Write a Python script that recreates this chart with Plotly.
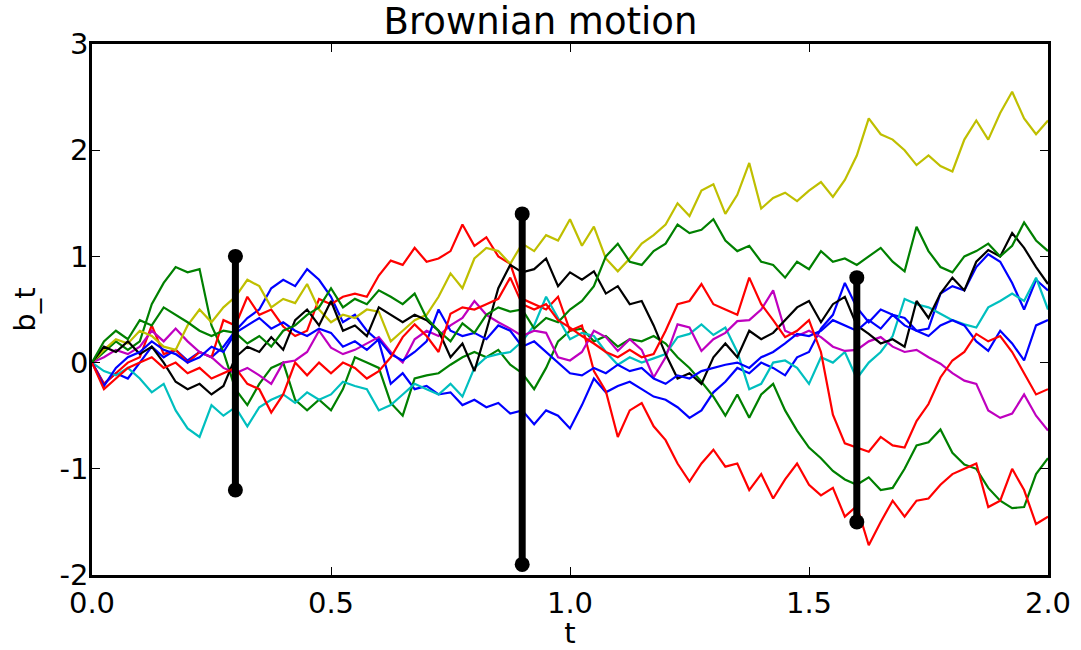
import plotly.graph_objects as go

t = [i * 0.025 for i in range(81)]

blue_a = [0, -0.2, -0.1, -0.15, 0.0, 0.15, 0.05, 0.12, 0.02, 0.1, 0.05, 0.15, 0.3, 0.42, 0.5, 0.7, 0.78, 0.72, 0.88, 0.78,
          0.62, 0.38, 0.45, 0.3, 0.2, -0.2, -0.1, -0.25, -0.22, -0.3, -0.28, -0.4, -0.35, -0.42, -0.38, -0.48, -0.45, -0.58, -0.45, -0.5,
          -0.62, -0.4, -0.15, -0.28, -0.22, -0.18, -0.25, -0.32, -0.35, -0.42, -0.52, -0.45, -0.28, -0.18, -0.05, -0.1, 0.0, -0.05, -0.12, 0.05,
          0.1, 0.32, 0.45, 0.75, 0.52, 0.38, 0.5, 0.45, 0.42, 0.3, 0.32, 0.65, 0.72, 0.68, 0.9, 1.02, 0.95, 0.75, 0.5, 0.78, 0.68]
green_a = [0, 0.1, 0.2, 0.12, 0.2, 0.55, 0.75, 0.9, 0.85, 0.88, 0.35, 0.1, -0.25, -0.4, -0.2, -0.05, 0.0, -0.35, -0.45, -0.35,
           -0.45, -0.25, 0.05, 0.0, -0.05, -0.38, -0.5, -0.15, -0.12, -0.1, -0.02, 0.05, 0.1, 0.05, 0.12, -0.02, -0.1, -0.25, -0.05, 0.2,
           0.3, 0.32, 0.2, 0.25, 0.15, 0.22, 0.2, 0.25, 0.18, 0.05, -0.05, -0.18, -0.32, -0.5, -0.3, -0.52, -0.3, -0.2, -0.45, -0.64,
           -0.8, -0.9, -1.02, -1.1, -1.15, -1.08, -1.2, -1.18, -1.0, -0.78, -0.75, -0.63, -0.85, -0.96, -1.0, -1.18, -1.3, -1.37, -1.36, -1.05, -0.9]
red_a = [0, -0.2, -0.1, 0.0, 0.05, 0.35, 0.08, 0.12, 0.0, 0.1, 0.05, 0.4, 0.35, 0.62, 0.45, 0.5, 0.34, 0.25, 0.3, 0.6,
         0.55, 0.62, 0.65, 0.62, 0.82, 0.96, 0.92, 1.08, 0.95, 0.98, 1.05, 1.3, 1.1, 1.18, 1.0, 0.93, 0.6, 0.55, 0.5, 0.62,
         0.3, 0.35, -0.08, -0.27, -0.7, -0.45, -0.38, -0.6, -0.73, -0.95, -1.12, -0.95, -0.82, -0.98, -0.95, -1.2, -1.05, -1.28, -1.1, -0.95,
         -1.15, -1.25, -1.18, -1.45, -1.35, -1.72, -1.5, -1.3, -1.45, -1.3, -1.28, -1.15, -1.05, -1.0, -0.95, -1.36, -1.3, -1.0, -1.2, -1.52, -1.45]
cyan = [0, -0.08, -0.12, -0.05, -0.15, -0.28, -0.2, -0.45, -0.62, -0.7, -0.4, -0.5, -0.42, -0.6, -0.42, -0.35, -0.3, -0.38, -0.28, -0.35,
        -0.3, -0.18, -0.22, -0.25, -0.45, -0.4, -0.3, -0.2, -0.25, -0.3, -0.2, -0.32, -0.05, 0.05, 0.08, 0.1, 0.2, 0.35, 0.62, 0.42,
        0.22, 0.28, 0.25, 0.1, -0.02, 0.05, 0.0, 0.04, 0.08, 0.24, 0.27, 0.36, 0.26, 0.33, 0.1, -0.25, -0.2, 0.0, 0.02, -0.05,
        -0.2, 0.05, 0.0, 0.1, -0.15, 0.0, 0.1, 0.25, 0.6, 0.55, 0.52, 0.46, 0.4, 0.36, 0.33, 0.52, 0.58, 0.65, 0.58, 0.8, 0.5]
magenta = [0, 0.05, 0.12, 0.08, 0.15, 0.3, 0.2, 0.32, 0.2, 0.1, 0.05, -0.05, -0.1, -0.05, -0.12, -0.2, 0.0, 0.02, 0.1, 0.3,
           0.14, 0.08, 0.12, 0.18, 0.24, 0.1, 0.0, 0.22, 0.3, 0.25, 0.35, 0.42, 0.58, 0.45, 0.38, 0.32, 0.25, 0.3, 0.28, 0.05,
           0.02, 0.1, 0.3, 0.24, 0.11, 0.22, 0.12, -0.14, 0.05, 0.36, 0.33, 0.11, 0.22, 0.28, 0.39, 0.4, 0.5, 0.68, 0.3, 0.25,
           0.3, 0.24, 0.15, 0.11, 0.12, 0.2, 0.24, 0.15, 0.1, 0.12, 0.05, -0.01, -0.1, -0.17, -0.2, -0.45, -0.52, -0.48, -0.3, -0.5, -0.64]
yellow = [0, 0.12, 0.22, 0.18, 0.3, 0.25, 0.15, 0.12, 0.35, 0.5, 0.38, 0.52, 0.62, 0.78, 0.72, 0.52, 0.6, 0.56, 0.74, 0.5,
          0.38, 0.45, 0.42, 0.5, 0.48, 0.2, 0.3, 0.4, 0.45, 0.62, 0.84, 0.7, 0.98, 1.08, 1.05, 0.93, 1.12, 1.05, 1.2, 1.15,
          1.35, 1.1, 1.28, 0.98, 0.86, 0.98, 1.12, 1.2, 1.3, 1.5, 1.38, 1.62, 1.68, 1.4, 1.58, 1.88, 1.45, 1.55, 1.6, 1.52,
          1.62, 1.7, 1.56, 1.72, 1.95, 2.3, 2.15, 2.1, 2.0, 1.86, 1.95, 1.85, 1.8, 2.1, 2.28, 2.1, 2.35, 2.55, 2.3, 2.15, 2.28]
black = [0, 0.15, 0.1, 0.2, 0.08, 0.15, 0.0, -0.18, -0.25, -0.2, -0.3, -0.22, 0.05, 0.15, 0.1, 0.24, 0.12, 0.4, 0.5, 0.35,
         0.58, 0.3, 0.35, 0.25, 0.52, 0.45, 0.38, 0.45, 0.4, 0.3, 0.05, 0.18, -0.08, 0.3, 0.7, 0.92, 0.85, 0.88, 0.98, 0.72,
         0.85, 0.78, 0.86, 0.65, 0.72, 0.55, 0.58, 0.35, 0.08, -0.15, -0.1, -0.2, 0.05, 0.18, 0.05, 0.3, 0.22, 0.28, 0.4, 0.52,
         0.58, 0.38, 0.55, 0.62, 0.35, 0.27, 0.18, 0.22, 0.15, 0.58, 0.42, 0.65, 0.8, 0.68, 0.95, 1.06, 1.0, 1.22, 1.08, 0.9, 0.74]
blue_b = [0, -0.22, -0.05, 0.05, 0.1, 0.2, 0.12, 0.08, 0.0, 0.05, 0.15, 0.1, 0.28, 0.35, 0.42, 0.32, 0.38, 0.3, 0.25, 0.32,
          0.28, 0.15, 0.2, 0.12, 0.22, 0.08, 0.02, 0.1, 0.2, 0.5, 0.3, 0.25, 0.28, 0.22, 0.35, 0.3, 0.15, 0.2, 0.1, 0.0,
          -0.1, -0.12, -0.05, -0.1, -0.02, -0.08, -0.05, -0.15, -0.2, -0.12, -0.15, -0.08, -0.05, -0.02, 0.0, -0.05, 0.05, 0.1, 0.18, 0.27,
          0.25, 0.3, 0.4, 0.35, 0.3, 0.4, 0.32, 0.45, 0.35, 0.3, 0.25, 0.35, 0.4, 0.35, 0.2, 0.11, 0.3, 0.18, 0.02, 0.35, 0.4]
green_b = [0, 0.2, 0.3, 0.22, 0.4, 0.35, 0.52, 0.45, 0.38, 0.3, 0.25, 0.3, 0.28, 0.18, 0.25, 0.15, 0.3, 0.35, 0.45, 0.52,
           0.7, 0.52, 0.6, 0.55, 0.68, 0.62, 0.55, 0.65, 0.42, 0.3, 0.2, 0.37, 0.28, 0.45, 0.52, 0.48, 0.5, 0.32, 0.42, 0.38,
           0.5, 0.58, 0.72, 1.0, 1.12, 0.95, 0.92, 1.05, 1.12, 1.3, 1.22, 1.25, 1.35, 1.15, 1.05, 1.1, 0.95, 0.92, 0.8, 0.95,
           0.88, 1.05, 0.95, 0.98, 0.92, 1.0, 1.08, 0.95, 0.86, 1.28, 1.05, 0.9, 0.85, 1.0, 1.05, 1.12, 1.0, 1.1, 1.32, 1.15, 1.05]
red_b = [0, -0.25, -0.15, -0.05, 0.0, 0.05, -0.05, 0.0, -0.1, -0.05, -0.15, -0.1, -0.05, -0.2, -0.25, -0.47, -0.3, 0.0, -0.12, 0.0,
         -0.1, 0.0, -0.05, -0.15, -0.08, 0.05, 0.24, 0.36, 0.25, 0.1, 0.46, 0.52, 0.5, 0.55, 0.6, 0.8, 0.55, 0.5, 0.55, 0.4,
         0.33, 0.25, 0.18, 0.1, 0.05, 0.12, 0.05, 0.08, 0.3, 0.55, 0.58, 0.74, 0.55, 0.5, 0.45, 0.8, 0.55, 0.4, 0.24, 0.3,
         0.4, 0.1, -0.49, -0.76, -0.8, -0.84, -0.7, -0.78, -0.8, -0.55, -0.39, -0.14, 0.02, 0.1, 0.27, 0.2, 0.25, 0.1, -0.1, -0.3, -0.25]

paths = [blue_a, green_a, red_a, cyan, magenta, yellow, black, blue_b, green_b, red_b]
colors = ["#0000ff", "#008000", "#ff0000", "#00bfbf", "#bf00bf", "#bfbf00", "#000000", "#0000ff", "#008000", "#ff0000"]

bar_t = [0.3, 0.9, 1.6]
bar_lo = [-1.2, -1.9, -1.5]
bar_hi = [1.0, 1.4, 0.8]

x_ticks = [0.0, 0.5, 1.0, 1.5, 2.0]
x_labels = ["0.0", "0.5", "1.0", "1.5", "2.0"]
y_ticks = [-2, -1, 0, 1, 2, 3]
y_labels = ["-2", "-1", "0", "1", "2", "3"]

fig = go.Figure()
for ys, c in zip(paths, colors):
    fig.add_trace(go.Scatter(x=t, y=ys, mode="lines", line=dict(color=c, width=2.2), hoverinfo="skip"))
for bt, lo, hi in zip(bar_t, bar_lo, bar_hi):
    fig.add_trace(go.Scatter(x=[bt, bt], y=[lo, hi], mode="lines+markers",
                             line=dict(color="black", width=7),
                             marker=dict(color="black", size=15)))

font = "DejaVu Sans, sans-serif"
axis_common = dict(showline=True, linecolor="black", linewidth=2.5, mirror="allticks",
                   ticks="inside", ticklen=8, tickwidth=1.2, tickcolor="black", automargin=False,
                   showgrid=False, zeroline=False, tickfont=dict(family=font, size=29, color="black"))
fig.update_layout(
    width=1081, height=650,
    margin=dict(l=92, r=33, t=44, b=75),
    paper_bgcolor="white", plot_bgcolor="white",
    showlegend=False,
    title=dict(text="Brownian motion", x=0.5, xanchor="center", y=0.967, yanchor="middle",
               font=dict(family=font, size=37, color="black")),
    xaxis=dict(range=[0, 2], tickvals=x_ticks, ticktext=x_labels,
               title=dict(text="t", font=dict(family=font, size=29, color="black"), standoff=9),
               **axis_common),
    yaxis=dict(range=[-2, 3], tickvals=y_ticks, ticktext=y_labels, ticklabelstandoff=-5,
               title=dict(text="b_t", font=dict(family=font, size=29, color="black"), standoff=16),
               **axis_common),
)
fig.write_html("out.html", config={"displayModeBar": False},
               post_script="document.body.style.margin='0';")
